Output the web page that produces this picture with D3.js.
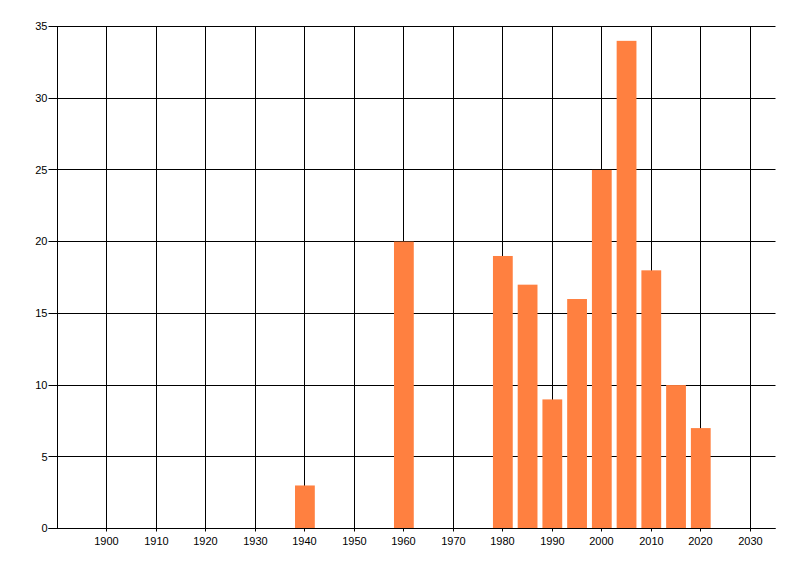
<!DOCTYPE html>
<html>
<head>
<meta charset="utf-8">
<script src="https://cdn.jsdelivr.net/npm/d3@7"></script>
<style>
	body { margin: 0; background: #fff; }
	svg { display: block; }
	text { font-family: "Liberation Sans", Arial, sans-serif; font-size: 11px; fill: #000; }
</style>
</head>
<body>
<svg width="800" height="576"></svg>
<script>
(function(){
	'use strict';

	const years = [1940, 1960, 1980, 1985, 1990, 1995, 2000, 2005, 2010, 2015, 2020];
	const counts = [3, 20, 19, 17, 9, 16, 25, 34, 18, 10, 7];
	const xTicks = [1900, 1910, 1920, 1930, 1940, 1950, 1960, 1970, 1980, 1990, 2000, 2010, 2020, 2030];
	const yTicks = [0, 5, 10, 15, 20, 25, 30, 35];

	const svg = d3.select('svg');
	const left = 57.5;
	const right = 775;
	const top = 26.5;
	const bottom = 528.5;
	const barYears = 4;

	const x = d3.scaleLinear()
		.domain([1890, 2035])
		.range([left, right]);

	const y = d3.scaleLinear()
		.domain([0, 35])
		.range([bottom, top]);

	const grid = svg.append('g');

	grid.selectAll('line.v')
		.data(xTicks)
		.enter().append('line')
			.attr('x1', d => Math.floor(x(d)) + 0.5)
			.attr('x2', d => Math.floor(x(d)) + 0.5)
			.attr('y1', top)
			.attr('y2', bottom + 3)
			.attr('stroke', '#000');

	grid.selectAll('line.h')
		.data(yTicks)
		.enter().append('line')
			.attr('x1', left - 9)
			.attr('x2', right + 0.5)
			.attr('y1', d => Math.round(y(d) - 0.5) + 0.5)
			.attr('y2', d => Math.round(y(d) - 0.5) + 0.5)
			.attr('stroke', '#000');

	// y axis line
	svg.append('line')
		.attr('x1', left).attr('x2', left)
		.attr('y1', top).attr('y2', bottom)
		.attr('stroke', '#000');

	svg.append('g')
		.selectAll('rect')
		.data(years.map((d, i) => ({year: d, count: counts[i]})))
		.enter().append('rect')
			.attr('x', d => x(d.year - barYears / 2))
			.attr('width', d => x(d.year + barYears / 2) - x(d.year - barYears / 2))
			.attr('y', d => y(d.count))
			.attr('height', d => bottom - 0.5 - y(d.count))
			.attr('fill', '#ff8040');

	// x axis line over the bars
	svg.append('line')
		.attr('x1', left - 9).attr('x2', right + 0.5)
		.attr('y1', bottom).attr('y2', bottom)
		.attr('stroke', '#000');

	svg.append('g')
		.selectAll('text')
		.data(xTicks)
		.enter().append('text')
			.attr('x', d => Math.floor(x(d)) + 0.5)
			.attr('y', bottom + 16)
			.attr('text-anchor', 'middle')
			.text(d => d);

	svg.append('g')
		.selectAll('text')
		.data(yTicks)
		.enter().append('text')
			.attr('x', left - 10)
			.attr('y', d => y(d))
			.attr('dy', '0.35em')
			.attr('text-anchor', 'end')
			.text(d => d);
})();
</script>
</body>
</html>
